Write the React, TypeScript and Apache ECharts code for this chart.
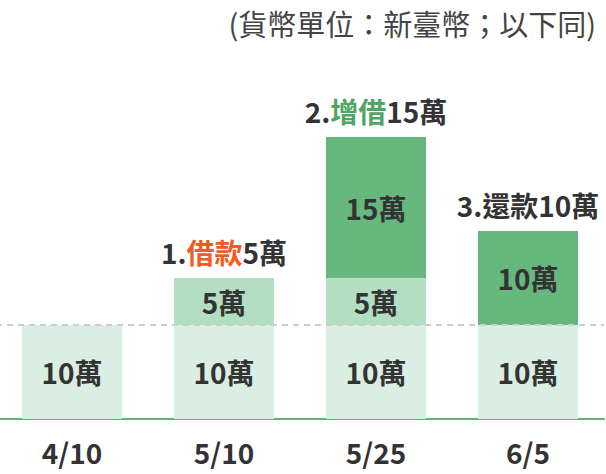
import React, { useEffect, useRef } from "react";
import * as echarts from "echarts";

const categories = ["4/10", "5/10", "5/25", "6/5"];
const baseValues = [10, 10, 10, 10];
const addedValues = [0, 5, 5, 0];
const topValues = [0, 0, 15, 10];
const annotationNums = ["", "1.", "2.", "3."];
const annotationVerbs = ["", "借款", "增借", "還款"];
const annotationAmounts = ["", "5萬", "15萬", "10萬"];
const annotationVerbStyles = ["n", "o", "g", "n"];
const unitNote = "(貨幣單位：新臺幣；以下同)";

const FONT = "'Noto Sans CJK TC', 'Noto Sans', sans-serif";
const FS = 28;

export default function App() {
  const ref = useRef<HTMLDivElement>(null);
  useEffect(() => {
    if (!ref.current) return;
    const chart = echarts.init(ref.current, undefined, { renderer: "svg" });
    const innerLabel = {
      show: true,
      position: "inside" as const,
      fontFamily: FONT,
      fontSize: FS,
      fontWeight: "bold" as const,
      color: "#333333",
      formatter: (p: any) => (p.value ? `${p.value}萬` : ""),
    };
    chart.setOption({
      animation: false,
      grid: { left: 0, right: 2, top: 137, bottom: 55, containLabel: false },
      xAxis: {
        type: "category",
        data: categories,
        axisLine: { lineStyle: { color: "#5fb27a", width: 2 } },
        axisTick: { show: false },
        axisLabel: {
          fontFamily: FONT,
          fontSize: FS,
          fontWeight: "bold",
          color: "#333333",
          margin: 19,
        },
      },
      yAxis: { type: "value", min: 0, max: 30, show: false, splitLine: { show: false } },
      graphic: [
        {
          type: "text",
          right: 10,
          top: 8,
          style: {
            text: unitNote,
            fontFamily: FONT,
            fontSize: 29,
            fill: "#444444",
          },
        },
      ],
      series: [
        {
          type: "bar",
          stack: "s",
          data: baseValues,
          barWidth: 100,
          itemStyle: { color: "#daeee4" },
          label: innerLabel,
          markLine: {
            silent: true,
            symbol: "none",
            label: { show: false },
            lineStyle: { color: "#cccccc", type: [6, 5], width: 2 },
            data: [{ yAxis: 10 }],
          },
        },
        {
          type: "bar",
          stack: "s",
          data: addedValues,
          barWidth: 100,
          itemStyle: { color: "#b3dec2" },
          label: innerLabel,
        },
        {
          type: "bar",
          stack: "s",
          data: topValues,
          barWidth: 100,
          itemStyle: { color: "#66b87f" },
          label: innerLabel,
        },
        {
          type: "bar",
          stack: "s",
          data: categories.map(() => 0),
          barWidth: 100,
          itemStyle: { color: "transparent" },
          label: {
            show: true,
            position: "top",
            distance: 12,
            fontFamily: FONT,
            fontSize: FS,
            fontWeight: "bold",
            formatter: (p: any) => {
              const i = p.dataIndex;
              if (!annotationNums[i]) return "";
              return `{n|${annotationNums[i]}}{${annotationVerbStyles[i]}|${annotationVerbs[i]}}{n|${annotationAmounts[i]}}`;
            },
            rich: {
              n: { fontFamily: FONT, fontSize: FS, fontWeight: "bold", color: "#333333" },
              o: { fontFamily: FONT, fontSize: FS, fontWeight: "bold", color: "#f55a1e" },
              g: { fontFamily: FONT, fontSize: FS, fontWeight: "bold", color: "#4fa564" },
            },
          },
        },
      ],
    });
    return () => chart.dispose();
  }, []);
  return (
    <div
      ref={ref}
      style={{ position: "absolute", left: -4, top: 0, width: 610, height: 474 }}
    />
  );
}
